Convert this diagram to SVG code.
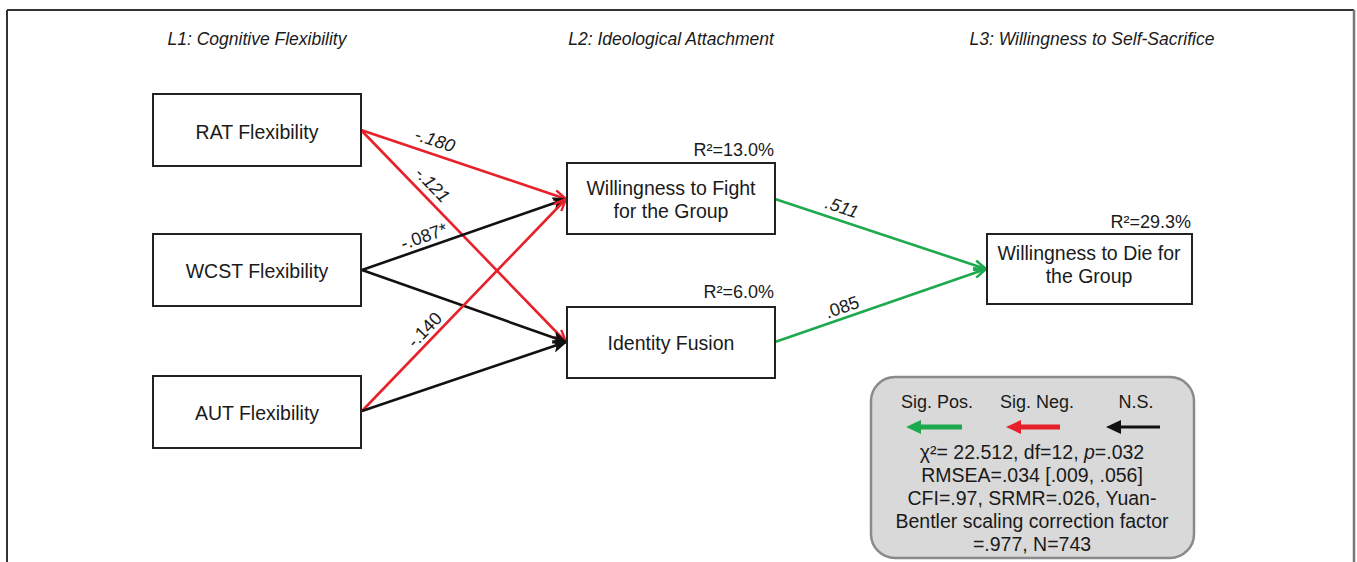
<svg xmlns="http://www.w3.org/2000/svg" width="1357" height="562" viewBox="0 0 1357 562">
<defs>
<style>
text{font-family:"Liberation Sans",Arial,sans-serif;fill:#1a1a1a}
.hdr{font-size:17.5px;font-style:italic;text-anchor:middle}
.nt{font-size:19.5px;text-anchor:middle}
.r2{font-size:18px;text-anchor:end}
.el{font-size:18px;text-anchor:middle}
.it{font-style:italic}
.lg{font-size:19.5px;text-anchor:middle}
.lh{font-size:18px;text-anchor:middle}
.box{fill:#fff;stroke:#222;stroke-width:2}
.e{fill:none;stroke-width:2.6}
.red{stroke:#e8202a}
.blk{stroke:#111}
.grn{stroke:#1daa4e}
</style>
<marker id="mr" viewBox="0 0 14 12" refX="13" refY="6" markerWidth="14" markerHeight="12" markerUnits="userSpaceOnUse" orient="auto"><path d="M1,1 L13,6 L1,11" fill="none" stroke="#e8202a" stroke-width="2.4"/></marker>
<marker id="mk" viewBox="0 0 14 12" refX="13" refY="6" markerWidth="14" markerHeight="12" markerUnits="userSpaceOnUse" orient="auto"><path d="M1,1 L13,6 L1,11 L4,6 z" fill="#111" stroke="#111" stroke-width="1.5"/></marker>
<marker id="mg" viewBox="0 0 14 12" refX="13" refY="6" markerWidth="14" markerHeight="12" markerUnits="userSpaceOnUse" orient="auto"><path d="M1,1 L13,6 L1,11" fill="none" stroke="#1daa4e" stroke-width="2.6"/></marker>
</defs>
<rect width="1357" height="562" fill="#fff"/>
<g id="frame" fill="none">
<line x1="7" y1="10" x2="1354" y2="10" stroke="#333" stroke-width="2"/>
<line x1="7" y1="10" x2="7" y2="562" stroke="#333" stroke-width="2"/>
<line x1="1354" y1="10" x2="1354" y2="562" stroke="#777" stroke-width="2.5"/>
</g>
<g id="headers">
<text class="hdr" x="257" y="45">L1: Cognitive Flexibility</text>
<text class="hdr" x="671" y="45">L2: Ideological Attachment</text>
<text class="hdr" x="1092" y="45">L3: Willingness to Self-Sacrifice</text>
</g>
<g id="connectors">
<line class="e red" x1="361" y1="130" x2="566" y2="199" marker-end="url(#mr)"/>
<line class="e red" x1="361" y1="130" x2="566" y2="342" marker-end="url(#mr)"/>
<line class="e blk" x1="362" y1="270" x2="566" y2="199" marker-end="url(#mk)"/>
<line class="e blk" x1="362" y1="270" x2="566" y2="342" marker-end="url(#mk)"/>
<line class="e red" x1="362" y1="411" x2="566" y2="199" marker-end="url(#mr)"/>
<line class="e blk" x1="362" y1="411" x2="566" y2="342" marker-end="url(#mk)"/>
<line class="e grn" x1="775" y1="199" x2="986" y2="269" marker-end="url(#mg)"/>
<line class="e grn" x1="775" y1="342" x2="986" y2="269" marker-end="url(#mg)"/>
<text class="el it" transform="translate(433,146) rotate(18.5)">-.180</text>
<text class="el it" transform="translate(428,189) rotate(46)">-.121</text>
<text class="el" transform="translate(426,242) rotate(-19.3)">-.087*</text>
<text class="el" transform="translate(429,334) rotate(-46)">-.140</text>
<text class="el it" transform="translate(840,213) rotate(18.5)">.511</text>
<text class="el" transform="translate(844,313) rotate(-19.2)">.085</text>
</g>
<g id="node-rat">
<rect class="box" x="153" y="94" width="208" height="72"/>
<text class="nt" x="257" y="139">RAT Flexibility</text>
</g>
<g id="node-wcst">
<rect class="box" x="153" y="234" width="208" height="72"/>
<text class="nt" x="257" y="278">WCST Flexibility</text>
</g>
<g id="node-aut">
<rect class="box" x="153" y="376" width="208" height="72"/>
<text class="nt" x="257" y="420">AUT Flexibility</text>
</g>
<g id="node-fight">
<rect class="box" x="567" y="163" width="208" height="71"/>
<text class="nt" x="671" y="195">Willingness to Fight</text>
<text class="nt" x="671" y="218">for the Group</text>
<text class="r2" x="774" y="156">R²=13.0%</text>
</g>
<g id="node-fusion">
<rect class="box" x="567" y="307" width="208" height="71"/>
<text class="nt" x="671" y="350">Identity Fusion</text>
<text class="r2" x="774" y="298">R²=6.0%</text>
</g>
<g id="node-die">
<rect class="box" x="987" y="234" width="205" height="70"/>
<text class="nt" x="1089" y="260">Willingness to Die for</text>
<text class="nt" x="1089" y="283">the Group</text>
<text class="r2" x="1191" y="228">R²=29.3%</text>
</g>
<g id="legend">
<rect x="871" y="377" width="323" height="181" rx="24" ry="24" fill="#d9d9d9" stroke="#8a8a8a" stroke-width="2.5"/>
<text class="lh" x="937" y="408">Sig. Pos.</text>
<text class="lh" x="1037" y="408">Sig. Neg.</text>
<text class="lh" x="1136" y="408">N.S.</text>
<line x1="962" y1="427" x2="918" y2="427" stroke="#1daa4e" stroke-width="5"/>
<path d="M906,427 L921,420 L921,434 z" fill="#1daa4e"/>
<line x1="1060" y1="427" x2="1018" y2="427" stroke="#e8202a" stroke-width="5"/>
<path d="M1006,427 L1021,420 L1021,434 z" fill="#e8202a"/>
<line x1="1160" y1="427" x2="1118" y2="427" stroke="#111" stroke-width="3"/>
<path d="M1106,427 L1121,420 L1121,434 z" fill="#111"/>
<text class="lg" x="1032" y="459">χ²= 22.512, df=12, <tspan font-style="italic">p</tspan>=.032</text>
<text class="lg" x="1032" y="482">RMSEA=.034 [.009, .056]</text>
<text class="lg" x="1032" y="505">CFI=.97, SRMR=.026, Yuan-</text>
<text class="lg" x="1032" y="528">Bentler scaling correction factor</text>
<text class="lg" x="1032" y="551">=.977, N=743</text>
</g>
</svg>
